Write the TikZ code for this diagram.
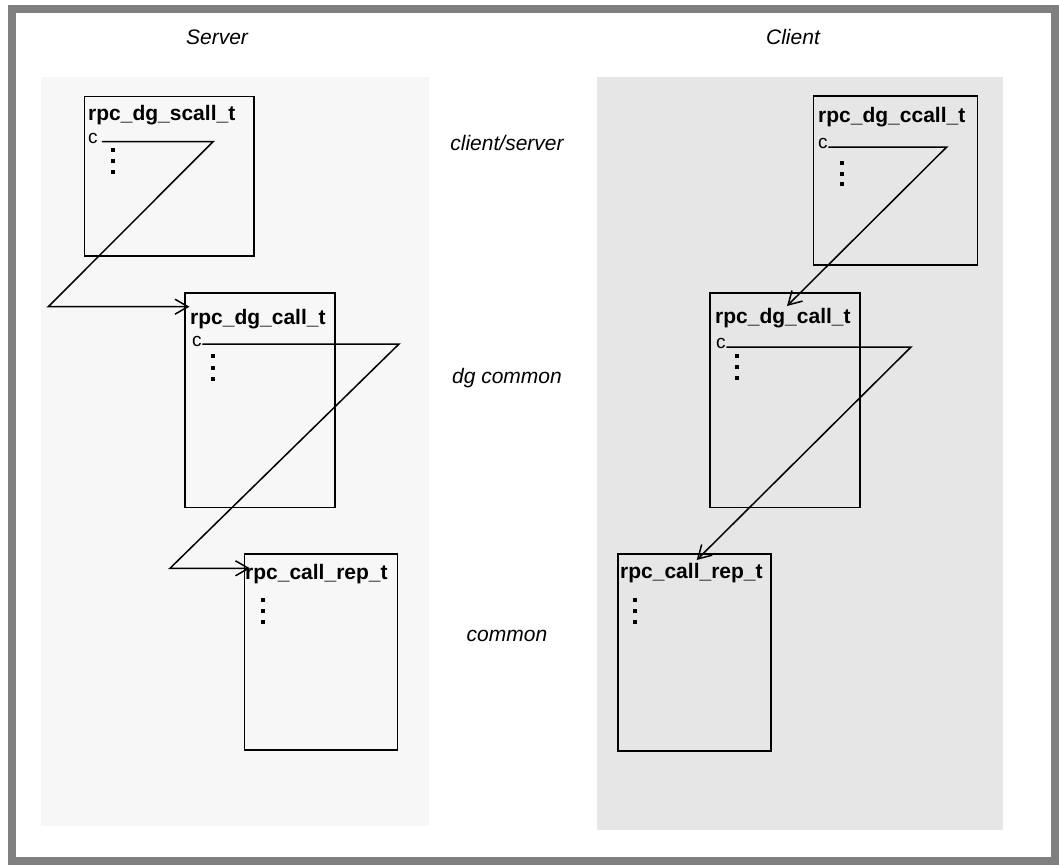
\documentclass[tikz,border=0pt]{standalone}
\usepackage{fontspec}
\setmainfont{Liberation Sans}
\usetikzlibrary{arrows.meta}
\definecolor{framegray}{HTML}{808080}
\definecolor{srvbg}{HTML}{F7F7F7}
\definecolor{clibg}{HTML}{E6E6E6}
\begin{document}
\begin{tikzpicture}[x=1pt,y=-1pt,
  box/.style={draw=black, line width=1.8pt, anchor=north west, inner sep=0pt},
  title/.style={font=\bfseries\fontsize{21}{23}\selectfont, anchor=base west, inner sep=0pt},
  fld/.style={font=\fontsize{19}{21}\selectfont, anchor=base west, inner sep=0pt},
  lbl/.style={font=\itshape\fontsize{21}{24}\selectfont, inner sep=0pt},
  ptr/.style={line width=1.5pt, -{Straight Barb[length=13pt,width=15pt]}}]
\useasboundingbox (0,0) rectangle (1059,865);
\fill[white] (0,0) rectangle (1059,865);
% panels
\fill[srvbg] (41,77) rectangle (429,826);
\fill[clibg] (597,77) rectangle (1003,830);
% frame
\draw[framegray, line width=8pt] (12,9) rectangle (1055,861);
% column / layer labels
\node[lbl] (server) at (217,37) {Server};
\node[lbl] (client) at (793,37) {Client};
\node[lbl] (lcs) at (507,143) {client/server};
\node[lbl] (ldg) at (507,378) {dg common};
\node[lbl] (lcm) at (507,636) {common};
% server boxes
\node[box, minimum width=169.5pt, minimum height=159.5pt] (b1) at (83.5,95.5) {};
\node[box, minimum width=150pt, minimum height=214.5pt] (b2) at (184,292) {};
\node[box, minimum width=153pt, minimum height=196pt] (b3) at (243.5,553) {};
% client boxes
\node[box, minimum width=164pt, minimum height=169pt] (b4) at (812.5,95) {};
\node[box, minimum width=150pt, minimum height=214.5pt] (b5) at (709,292) {};
\node[box, minimum width=153pt, minimum height=197pt] (b6) at (617,553) {};
% titles
\node[title] (t1) at (88,120) {rpc\_dg\_scall\_t};
\node[title] (t2) at (190,324) {rpc\_dg\_call\_t};
\node[title] (t3) at (245,579) {rpc\_call\_rep\_t};
\node[title] (t4) at (818,122.5) {rpc\_dg\_ccall\_t};
\node[title] (t5) at (715,323) {rpc\_dg\_call\_t};
\node[title] (t6) at (620,578) {rpc\_call\_rep\_t};
% c fields
\node[fld] (c1) at (88,143) {c};
\node[fld] (c2) at (192,346) {c};
\node[fld] (c4) at (818,148) {c};
\node[fld] (c5) at (716,348) {c};
% vertical dots
\foreach \x/\y in {112.7/150,112.7/161,112.7/172,
                   213/356,213/367.5,213/379,
                   263.3/600,263.3/611,263.3/622,
                   842.3/163,842.3/173.5,842.3/184,
                   737.3/356,737.3/367,737.3/378,
                   635/600,635/611,635/622}
  \fill[black] (\x-2,\y-2) rectangle (\x+2,\y+2);
% pointer routing coordinates
\coordinate (r1) at (213,141.7);
\coordinate (l1) at (48.3,306.7);
\coordinate (a2) at (189.5,306.7);
\coordinate (r2) at (399,344);
\coordinate (l2) at (170,568.3);
\coordinate (a3) at (250,568.3);
\coordinate (r4) at (946.7,147);
\coordinate (a5) at (787,306);
\coordinate (r5) at (911,347);
\coordinate (a6) at (696.7,560);
% server pointers
\draw[ptr] (c1.base east |- r1) ++(4,0) -- (r1) -- (l1) -- (a2);
\draw[ptr] (c2.base east |- r2) ++(0.5,0) -- (r2) -- (l2) -- (a3);
% client pointers
\draw[ptr] (c4.base east |- r4) ++(0.5,0) -- (r4) -- (a5);
\draw[ptr] (c5.base east |- r5) ++(0.5,0) -- (r5) -- (a6);
\end{tikzpicture}
\end{document}
